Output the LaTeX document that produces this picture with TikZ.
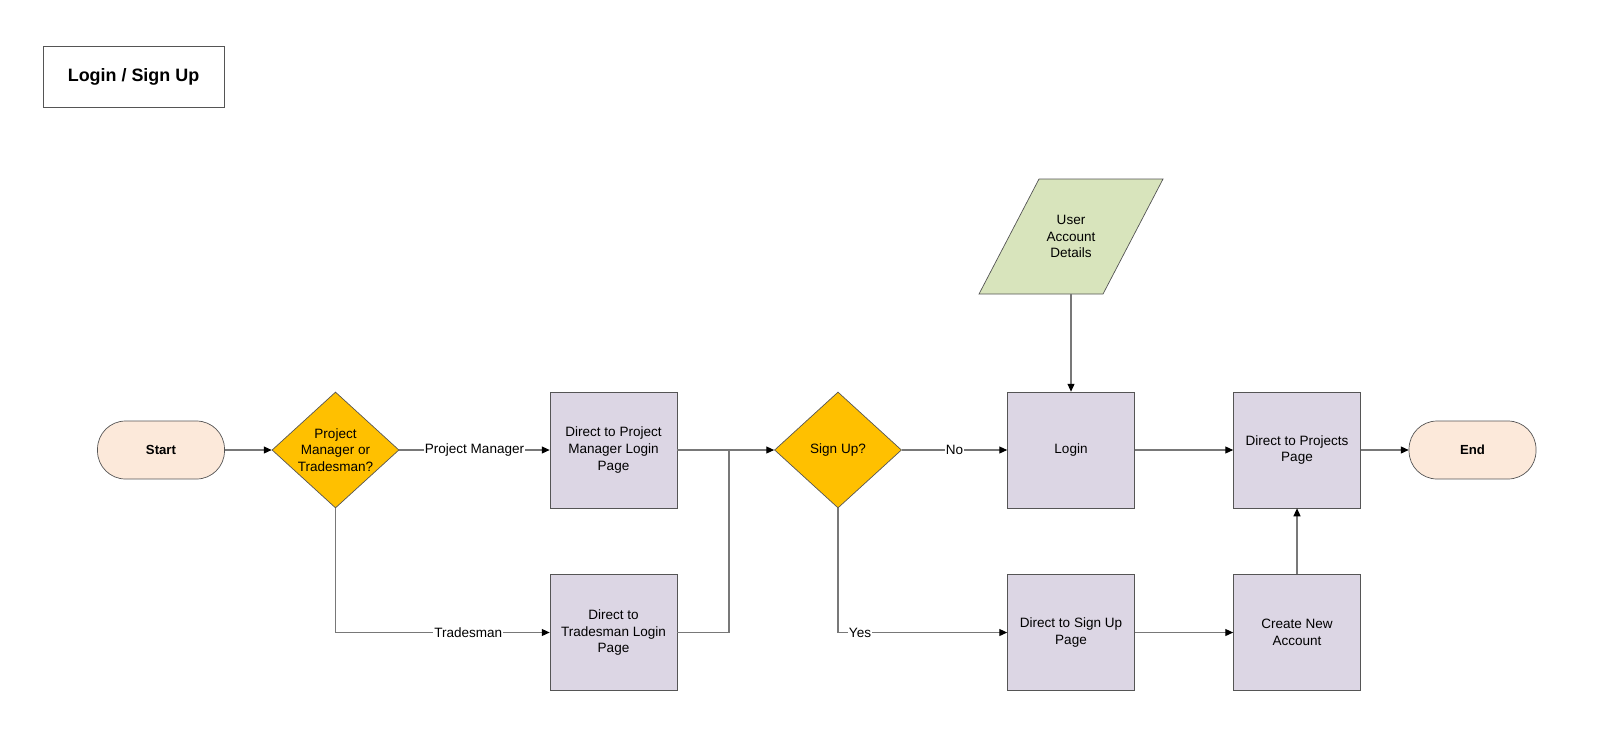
\documentclass[tikz,border=0pt]{standalone}
\usepackage{fontspec}
\setmainfont{Liberation Sans}
\usetikzlibrary{shapes.geometric,arrows.meta}
\definecolor{termfill}{RGB}{252,233,218}
\definecolor{boxfill}{RGB}{220,214,228}
\definecolor{decfill}{RGB}{255,192,0}
\definecolor{datafill}{RGB}{216,228,188}
\definecolor{edgegray}{RGB}{85,85,85}
\definecolor{linegray}{RGB}{120,120,120}

\begin{document}
\begin{tikzpicture}[x=0.02cm,y=-0.02cm,
    font=\fontsize{7.7}{9.4}\selectfont,
    term/.style={draw=edgegray,fill=termfill,rounded corners=0.56cm,minimum width=2.54cm,minimum height=1.16cm,font=\fontsize{7.5}{9}\selectfont\bfseries},
    stepbox/.style={draw=edgegray,fill=boxfill,minimum width=2.54cm,minimum height=2.32cm,inner sep=1pt,align=center},
    choice/.style={diamond,draw=edgegray,fill=decfill,minimum width=2.54cm,minimum height=2.32cm,inner sep=0pt,shape aspect=1.1,align=center},
    datain/.style={minimum width=2.48cm,minimum height=2.3cm,inner sep=0pt,align=center},
    flow/.style={draw=linegray,line width=0.6pt,-{Triangle[length=4.5pt,width=4pt,color=black]}},
    lbl/.style={fill=white,inner sep=0.5pt}]
    \useasboundingbox (0,0) rectangle (1621,747);

    % Title
    \node[draw=edgegray,minimum width=3.62cm,minimum height=1.22cm,font=\fontsize{10.2}{12}\selectfont\bfseries] (title) at (133.5,76.5) {Login / Sign Up};

    % Input data (parallelogram)
    \filldraw[draw=edgegray,fill=datafill] (1039,179) -- (1163,179) -- (1103,294) -- (979,294) -- cycle;
    \node[datain] (details) at (1071,236.5) {User\\Account\\Details};

    % Top row
    \node[term] (start) at (161,450) {Start};
    \node[choice] (who) at (335.5,450) {Project\\Manager or\\Tradesman?};
    \node[stepbox] (pmlogin) at (613.5,450) {Direct to Project\\Manager Login\\Page};
    \coordinate (join) at (729,450);
    \node[choice] (signup) at (838,450) {Sign Up?};
    \node[stepbox] (login) at (1071,450) {Login};
    \node[stepbox] (projects) at (1297,450) {Direct to Projects\\Page};
    \node[term] (finish) at (1472.5,450) {End};

    % Bottom row
    \node[stepbox] (tmlogin) at (613.5,632.5) {Direct to\\Tradesman Login\\Page};
    \node[stepbox] (supage) at (1071,632.5) {Direct to Sign Up\\Page};
    \node[stepbox] (create) at (1297,632.5) {Create New\\Account};

    % Connectors
    \draw[flow] (start) -- (who);
    \draw[flow] (who) -- node[lbl] {Project Manager} (pmlogin);
    \draw[flow] (who.south) |- node[lbl,pos=0.81] {Tradesman} (tmlogin.west);
    \draw[flow] (pmlogin) -- (signup);
    \draw[draw=linegray,line width=0.6pt] (tmlogin.east) -| (join);
    \draw[flow] (signup) -- node[lbl] {No} (login);
    \draw[flow] (signup.south) |- node[lbl,pos=0.565] {Yes} (supage.west);
    \draw[flow] (details.south) -- (login.north);
    \draw[flow] (login) -- (projects);
    \draw[flow] (projects) -- (finish);
    \draw[flow] (supage) -- (create);
    \draw[flow] (create) -- (projects);
\end{tikzpicture}
\end{document}
